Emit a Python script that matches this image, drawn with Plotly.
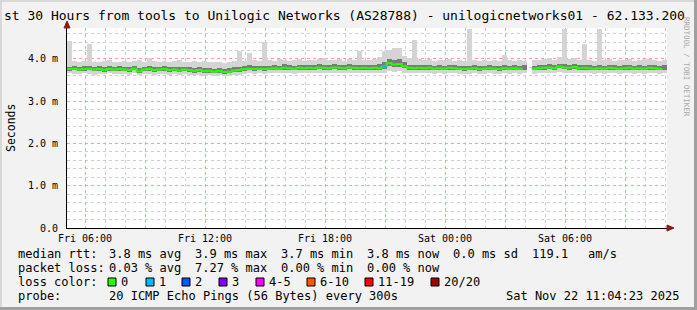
import plotly.graph_objects as go
import pandas as pd

# ---------------- data (ms) ----------------
start_time = "2025-11-21 05:05"
step_min = 15
median_ms = [3.76,3.77,3.75,3.76,3.77,3.75,3.76,3.74,3.76,3.75,
             3.76,3.75,3.74,3.77,3.71,3.75,3.76,3.74,3.75,3.76,
             3.74,3.75,3.73,3.75,3.74,3.72,3.74,3.71,3.72,3.70,
             3.72,3.69,3.70,3.73,3.74,3.76,3.77,3.76,3.77,3.76,
             3.77,3.78,3.77,3.79,3.78,3.77,3.79,3.78,3.79,3.78,
             3.80,3.79,3.78,3.80,3.79,3.78,3.80,3.79,3.78,3.79,
             3.78,3.79,3.78,3.82,3.90,3.87,3.88,3.83,3.79,3.78,
             3.79,3.78,3.79,3.77,3.78,3.77,3.79,3.78,3.77,3.76,
             3.77,3.78,3.76,3.77,3.78,3.77,3.76,3.78,3.77,3.78,
             3.77,3.78,None,3.77,3.78,3.79,3.80,3.78,3.82,3.80,
             3.79,3.81,3.78,3.79,3.78,3.77,3.78,3.77,3.79,3.78,
             3.77,3.78,3.79,3.77,3.78,3.77,3.79,3.78,3.77,3.78]
max_ms = [4.42,3.95,3.93,3.96,4.35,3.94,3.92,3.95,3.97,3.93,
          3.94,3.96,3.92,3.95,3.98,3.93,4.02,3.95,3.94,3.96,
          3.93,3.95,3.97,3.92,3.94,3.96,3.93,3.95,3.92,3.94,
          3.93,3.91,3.94,3.96,4.20,3.95,4.15,3.97,3.96,4.40,
          3.98,3.96,3.99,3.97,3.95,3.98,4.00,3.96,3.98,3.97,
          3.99,4.02,3.97,3.98,4.00,3.96,3.99,3.97,4.20,3.98,
          3.97,3.99,4.05,4.20,4.22,4.25,4.25,4.08,4.02,4.45,
          3.99,3.97,4.00,3.96,3.98,3.97,4.01,3.96,3.98,3.95,
          4.70,3.97,3.95,3.98,3.96,3.97,3.95,4.10,3.97,3.96,
          3.98,3.96,None,3.97,3.98,4.00,4.03,3.98,4.05,4.70,
          3.99,4.02,3.97,4.35,3.98,3.96,4.70,3.97,3.99,3.96,
          3.97,3.98,4.01,3.96,3.98,4.00,3.99,3.97,3.96,3.98]
min_ms = [3.66,3.65,3.64,3.66,3.65,3.63,3.65,3.64,3.66,3.64,
          3.65,3.64,3.63,3.66,3.62,3.64,3.65,3.63,3.64,3.65,
          3.63,3.64,3.62,3.64,3.63,3.61,3.63,3.60,3.62,3.60,
          3.61,3.59,3.60,3.62,3.63,3.65,3.66,3.65,3.66,3.65,
          3.66,3.67,3.66,3.67,3.66,3.65,3.67,3.66,3.67,3.66,
          3.68,3.67,3.66,3.68,3.67,3.66,3.68,3.67,3.66,3.67,
          3.66,3.67,3.66,3.68,3.72,3.70,3.71,3.68,3.67,3.66,
          3.67,3.66,3.67,3.65,3.66,3.65,3.67,3.66,3.65,3.64,
          3.65,3.66,3.64,3.65,3.66,3.65,3.64,3.66,3.65,3.66,
          3.65,3.66,None,3.65,3.66,3.67,3.68,3.66,3.69,3.68,
          3.67,3.68,3.66,3.67,3.66,3.65,3.66,3.65,3.67,3.66,
          3.65,3.66,3.67,3.65,3.66,3.65,3.67,3.66,3.65,3.66]
inner_lo_ms = [3.72,3.73,3.71,3.72,3.73,3.71,3.72,3.70,3.72,3.71,
               3.72,3.71,3.70,3.73,3.68,3.71,3.72,3.70,3.71,3.72,
               3.70,3.71,3.69,3.71,3.70,3.68,3.70,3.67,3.68,3.66,
               3.68,3.65,3.66,3.69,3.70,3.72,3.73,3.72,3.73,3.72,
               3.73,3.74,3.73,3.75,3.74,3.73,3.75,3.74,3.75,3.74,
               3.76,3.75,3.74,3.76,3.75,3.74,3.76,3.75,3.74,3.75,
               3.74,3.75,3.74,3.77,3.84,3.81,3.82,3.78,3.75,3.74,
               3.75,3.74,3.75,3.73,3.74,3.73,3.75,3.74,3.73,3.72,
               3.73,3.74,3.72,3.73,3.74,3.73,3.72,3.74,3.73,3.74,
               3.73,3.74,None,3.73,3.74,3.75,3.76,3.74,3.78,3.76,
               3.75,3.77,3.74,3.75,3.74,3.73,3.74,3.73,3.75,3.74,
               3.73,3.74,3.75,3.73,3.74,3.73,3.75,3.74,3.73,3.74]
inner_hi_ms = [3.82,3.84,3.81,3.83,3.84,3.82,3.83,3.80,3.84,3.81,
               3.83,3.82,3.80,3.84,3.79,3.82,3.84,3.81,3.82,3.83,
               3.81,3.82,3.80,3.82,3.81,3.79,3.81,3.78,3.79,3.77,
               3.79,3.76,3.78,3.80,3.82,3.83,3.85,3.83,3.84,3.83,
               3.84,3.86,3.84,3.87,3.85,3.84,3.86,3.85,3.86,3.85,
               3.87,3.86,3.85,3.87,3.86,3.85,3.88,3.86,3.85,3.86,
               3.85,3.86,3.87,3.92,4.00,3.98,3.99,3.92,3.86,3.85,
               3.86,3.85,3.86,3.84,3.85,3.84,3.86,3.85,3.84,3.83,
               3.84,3.85,3.83,3.84,3.85,3.84,3.83,3.85,3.84,3.85,
               3.84,3.85,None,3.84,3.85,3.86,3.88,3.85,3.89,3.87,
               3.86,3.88,3.85,3.86,3.85,3.84,3.85,3.84,3.86,3.85,
               3.84,3.85,3.86,3.84,3.85,3.84,3.86,3.85,3.84,3.85]
loss_count = [0]*63 + [1] + [0]*56

x_ticks = ["2025-11-21 06:00","2025-11-21 09:00","2025-11-21 12:00","2025-11-21 15:00",
           "2025-11-21 18:00","2025-11-21 21:00","2025-11-22 00:00","2025-11-22 03:00",
           "2025-11-22 06:00","2025-11-22 09:00"]
x_tick_text = ["Fri 06:00","","Fri 12:00","","Fri 18:00","","Sat 00:00","","Sat 06:00",""]
y_ticks = [0,1,2,3,4]
y_tick_text = ["0.0","1.0 m","2.0 m","3.0 m","4.0 m"]

loss_labels = ["0","1","2","3","4-5","6-10","11-19","20/20"]
loss_colors = ["#26ff00","#00b8ff","#0059ff","#7e00ff","#ff00ff","#ff5500","#ff0000","#a10000"]

stats_rows = [
    ["median rtt:", "3.8 ms avg", "3.9 ms max", "3.7 ms min", "3.8 ms now", "0.0 ms sd", "119.1", "am/s"],
    ["packet loss:", "0.03 % avg", "7.27 % max", "0.00 % min", "0.00 % now"],
]
probe_text = "20 ICMP Echo Pings (56 Bytes) every 300s"
stamp_text = "Sat Nov 22 11:04:23 2025"
title_text = "st 30 Hours from tools to Unilogic Networks (AS28788) - unilogicnetworks01 - 62.133.200"

# ---------------- layout geometry ----------------
W, H = 697, 310
L, R, T, B = 67, 667, 28, 228
def px(xp): return (xp - L) / (R - L)
def py(yp): return (B - yp) / (B - T)

times = pd.date_range(start_time, periods=len(median_ms), freq=f"{step_min}min")
centers = times + pd.Timedelta(minutes=step_min / 2)
bw = step_min * 60 * 1000

def band(lo, hi):
    base, h = [], []
    for a, b in zip(lo, hi):
        if a is None or b is None:
            base.append(None); h.append(None)
        else:
            base.append(a); h.append(b - a)
    return base, h

fig = go.Figure()
b0, h0 = band(min_ms, max_ms)
fig.add_trace(go.Bar(x=centers, y=h0, base=b0, width=bw, marker=dict(color="#d4d4d4", line_width=0),
                     hoverinfo="skip"))
b1, h1 = band(inner_lo_ms, inner_hi_ms)
fig.add_trace(go.Bar(x=centers, y=h1, base=b1, width=bw, marker=dict(color="#7a7a7a", line_width=0),
                     hoverinfo="skip"))
fig.add_trace(go.Scatter(x=times, y=median_ms, mode="lines", line=dict(color=loss_colors[0], width=2, shape="hv"),
                         connectgaps=False, hoverinfo="skip"))
for i, lc in enumerate(loss_count):
    if lc > 0 and median_ms[i] is not None:
        fig.add_trace(go.Scatter(x=[times[i], times[i] + pd.Timedelta(minutes=step_min)],
                                 y=[median_ms[i], median_ms[i]], mode="lines",
                                 line=dict(color=loss_colors[min(lc, 7)], width=2), hoverinfo="skip"))

mono = "DejaVu Sans Mono"
fig.update_layout(
    width=W, height=H, margin=dict(l=L, r=W - R, t=T, b=H - B),
    paper_bgcolor="#f2f2f2", plot_bgcolor="#ffffff",
    showlegend=False, barmode="overlay", bargap=0,
    font=dict(family=mono, size=10, color="#000000"),
    xaxis=dict(type="date", range=[times[0] + pd.Timedelta(minutes=1), times[0] + pd.Timedelta(hours=30, minutes=1)],
               tickmode="array", tickvals=x_ticks, ticktext=x_tick_text,
               showgrid=True, gridcolor="#f4a0a0", griddash="dot", gridwidth=1,
               showline=True, linecolor="#000000", linewidth=1, ticks="", zeroline=False,
               tickfont=dict(family=mono, size=10, color="#000000"), ticklabelstandoff=1,
               minor=dict(tickmode="linear", tick0="2025-11-21 00:00", dtick=3600000,
                          showgrid=True, gridcolor="#cfcfcf", griddash="dot", gridwidth=1)),
    yaxis=dict(range=[0, 4.733], tickmode="array", tickvals=y_ticks, ticktext=y_tick_text,
               showgrid=True, gridcolor="#f4a0a0", griddash="dot", gridwidth=1,
               showline=True, linecolor="#000000", linewidth=1, ticks="", zeroline=False,
               tickfont=dict(family=mono, size=10, color="#000000"), ticklabelstandoff=6,
               minor=dict(tickmode="linear", tick0=0, dtick=0.2,
                          showgrid=True, gridcolor="#cfcfcf", griddash="dot", gridwidth=1)),
)

ann = []
ann.append(dict(text=title_text, x=px(2), y=py(15), xanchor="left", yanchor="middle",
                font=dict(family=mono, size=13, color="#000000")))
ann.append(dict(text="Seconds", x=px(11), y=py(128), xanchor="center", yanchor="middle", textangle=-90,
                font=dict(family=mono, size=11.5, color="#000000")))
ann.append(dict(text="RRDTOOL / TOBI OETIKER", x=px(687), y=py(15), xanchor="center", yanchor="top", textangle=90,
                font=dict(family=mono, size=7.5, color="#a8a8a8")))
col_x = [16, 107, 193, 279, 365, 451, 530, 586]
row_y = [254, 268]
for r, row in enumerate(stats_rows):
    for c, txt in enumerate(row):
        ann.append(dict(text=txt, x=px(col_x[c]), y=py(row_y[r]), xanchor="left", yanchor="middle",
                        font=dict(family=mono, size=12, color="#000000")))
ann.append(dict(text="loss color:", x=px(16), y=py(282), xanchor="left", yanchor="middle",
                font=dict(family=mono, size=12, color="#000000")))
box_x = [108, 146, 182, 219, 256, 307, 365, 431]
shapes = []
for bx, lab, colr in zip(box_x, loss_labels, loss_colors):
    shapes.append(dict(type="rect", xref="paper", yref="paper", x0=px(bx), x1=px(bx + 8), y0=py(286), y1=py(278),
                       fillcolor=colr, line=dict(color="#000000", width=1)))
    ann.append(dict(text=lab, x=px(bx + 11), y=py(282), xanchor="left", yanchor="middle",
                    font=dict(family=mono, size=12, color="#000000")))
ann.append(dict(text="probe:", x=px(16), y=py(296), xanchor="left", yanchor="middle",
                font=dict(family=mono, size=12, color="#000000")))
ann.append(dict(text=probe_text, x=px(107), y=py(296), xanchor="left", yanchor="middle",
                font=dict(family=mono, size=12, color="#000000")))
ann.append(dict(text=stamp_text, x=px(681), y=py(296), xanchor="right", yanchor="middle",
                font=dict(family=mono, size=12, color="#000000")))
for a in ann:
    a.update(xref="paper", yref="paper", showarrow=False)

# axis arrows
shapes.append(dict(type="path", xref="paper", yref="paper",
                   path=f"M {px(667)} {py(225)} L {px(674)} {py(228)} L {px(667)} {py(231)} Z",
                   fillcolor="#8b1a1a", line=dict(color="#8b1a1a", width=1)))
shapes.append(dict(type="path", xref="paper", yref="paper",
                   path=f"M {px(64)} {py(28)} L {px(67)} {py(21)} L {px(70)} {py(28)} Z",
                   fillcolor="#8b1a1a", line=dict(color="#8b1a1a", width=1)))
# frame edges
shapes.append(dict(type="rect", xref="paper", yref="paper", x0=px(694), x1=px(697), y0=py(310), y1=py(0),
                   fillcolor="#a0a0a0", line_width=0))
shapes.append(dict(type="rect", xref="paper", yref="paper", x0=px(0), x1=px(697), y0=py(310), y1=py(307),
                   fillcolor="#a0a0a0", line_width=0))
shapes.append(dict(type="rect", xref="paper", yref="paper", x0=px(0), x1=px(2), y0=py(307), y1=py(0),
                   fillcolor="#d8d8d8", line_width=0))
shapes.append(dict(type="rect", xref="paper", yref="paper", x0=px(0), x1=px(694), y0=py(2), y1=py(0),
                   fillcolor="#d8d8d8", line_width=0))

fig.update_layout(annotations=ann, shapes=shapes)
fig.write_html("out.html")
